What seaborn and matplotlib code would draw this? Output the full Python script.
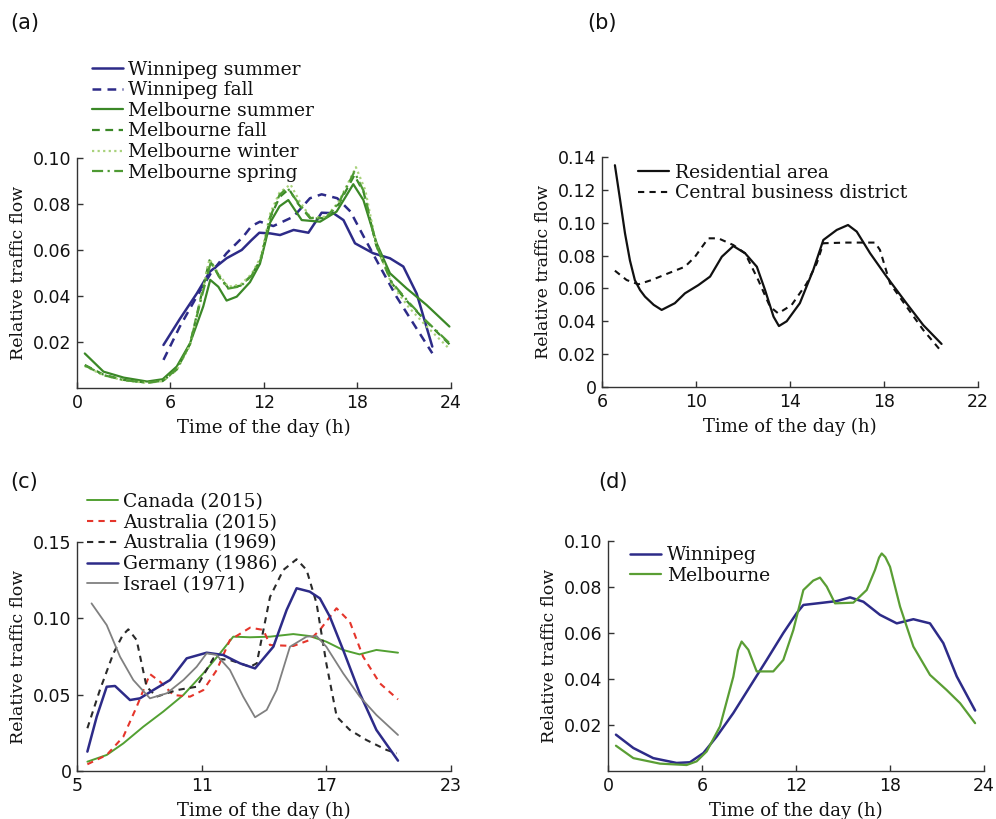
import matplotlib
matplotlib.use('Agg')
import matplotlib.pyplot as plt
import seaborn as sns

# ---- (a) seasonal hourly profiles ----
a_wpg_summer_h = [5.55, 6.6, 7.68, 8.53, 9.6, 10.57, 11.2, 11.7, 12.4, 13.03, 13.9, 14.85, 15.7,
                  16.45, 17.1, 17.84, 19.0, 20.08, 20.94, 21.8, 22.8]
a_wpg_summer_v = [0.0187, 0.0300, 0.0410, 0.0506, 0.0564, 0.0600, 0.0643, 0.0675, 0.0672, 0.0665,
                  0.0687, 0.0675, 0.0762, 0.0760, 0.0730, 0.0629, 0.0586, 0.0564, 0.0528, 0.0410, 0.0180]
a_wpg_fall_h = [5.55, 6.6, 7.68, 8.6, 9.6, 10.67, 11.2, 11.74, 12.6, 13.9, 14.95, 15.7, 16.7,
                17.55, 18.4, 19.44, 20.5, 21.58, 22.8]
a_wpg_fall_v = [0.0122, 0.0267, 0.0397, 0.0500, 0.0586, 0.0658, 0.0704, 0.0723, 0.0704, 0.0745,
                0.0825, 0.0842, 0.0825, 0.0767, 0.0658, 0.0528, 0.0397, 0.0281, 0.0151]
a_mel_summer_h = [0.5, 1.7, 3.0, 4.5, 5.5, 6.4, 7.25, 8.1, 8.55, 9.07, 9.6, 10.25, 11.1, 11.74,
                  12.4, 13.0, 13.56, 14.42, 15.6, 16.66, 17.73, 18.38, 19.23, 20.08, 21.15, 22.43, 23.9]
a_mel_summer_v = [0.0150, 0.0071, 0.0045, 0.0028, 0.0038, 0.0093, 0.0194, 0.0354, 0.0470, 0.0440,
                  0.0380, 0.0397, 0.0460, 0.0540, 0.0720, 0.0790, 0.0817, 0.0730, 0.0723, 0.0767,
                  0.0886, 0.0817, 0.0629, 0.0499, 0.0433, 0.0361, 0.0267]
a_mel_fall_h = [0.5, 1.7, 3.0, 4.5, 5.5, 6.4, 7.25, 7.9, 8.5, 9.1, 9.7, 10.5, 11.2, 11.8, 12.4, 13.0,
                13.6, 14.2, 15.0, 16.0, 16.8, 17.8, 18.4, 19.2, 20.2, 21.3, 22.4, 23.9]
a_mel_fall_v = [0.0100, 0.0058, 0.0035, 0.0023, 0.0030, 0.0080, 0.0190, 0.0380, 0.0555, 0.0490,
                0.0435, 0.0445, 0.0490, 0.0560, 0.0740, 0.0830, 0.0865, 0.0800, 0.0735, 0.0740,
                0.0800, 0.0925, 0.0850, 0.0620, 0.0455, 0.0368, 0.0290, 0.0190]
a_mel_winter_h = [0.5, 1.7, 3.0, 4.5, 5.5, 6.4, 7.25, 7.9, 8.5, 9.1, 9.7, 10.5, 11.2, 11.8, 12.4,
                  13.0, 13.7, 14.3, 15.0, 16.0, 16.8, 17.9, 18.5, 19.2, 20.2, 21.3, 22.4, 23.9]
a_mel_winter_v = [0.0095, 0.0055, 0.0033, 0.0022, 0.0030, 0.0078, 0.0185, 0.0375, 0.0560, 0.0495,
                  0.0440, 0.0450, 0.0495, 0.0570, 0.0760, 0.0850, 0.0885, 0.0810, 0.0740, 0.0745,
                  0.0810, 0.0960, 0.0860, 0.0625, 0.0450, 0.0350, 0.0270, 0.0170]
a_mel_spring_h = [0.5, 1.7, 3.0, 4.5, 5.5, 6.4, 7.25, 7.9, 8.6, 9.1, 9.7, 10.5, 11.2, 11.8, 12.4,
                  13.0, 13.5, 14.2, 15.0, 16.0, 16.8, 17.8, 18.4, 19.2, 20.2, 21.3, 22.4, 23.9]
a_mel_spring_v = [0.0098, 0.0056, 0.0034, 0.0023, 0.0031, 0.0082, 0.0190, 0.0370, 0.0550, 0.0485,
                  0.0432, 0.0442, 0.0488, 0.0560, 0.0745, 0.0840, 0.0870, 0.0805, 0.0738, 0.0742,
                  0.0805, 0.0940, 0.0855, 0.0622, 0.0460, 0.0372, 0.0292, 0.0195]

# ---- (b) residential vs CBD ----
b_res_h = [6.55, 6.77, 6.98, 7.19, 7.4, 7.62, 7.83, 8.2, 8.54, 9.1, 9.53, 10.1, 10.6, 11.1, 11.59,
           12.09, 12.59, 12.94, 13.3, 13.53, 13.86, 14.42, 14.99, 15.42, 15.99, 16.47, 16.84,
           17.41, 18.11, 18.96, 19.67, 20.45]
b_res_v = [0.135, 0.114, 0.0935, 0.077, 0.065, 0.059, 0.055, 0.050, 0.0469, 0.051, 0.057, 0.062,
           0.0672, 0.0793, 0.0858, 0.0814, 0.0732, 0.059, 0.0428, 0.0371, 0.040, 0.051, 0.0712,
           0.0895, 0.0956, 0.0986, 0.0946, 0.0814, 0.0672, 0.0509, 0.0377, 0.0262]
b_cbd_h = [6.55, 7.05, 7.55, 8.11, 8.82, 9.53, 9.96, 10.52, 10.95, 11.59, 12.09, 12.65, 13.15,
           13.5, 14.07, 14.71, 15.14, 15.42, 16.4, 17.62, 17.83, 18.26, 18.96, 19.67, 20.45]
b_cbd_v = [0.0708, 0.0651, 0.0625, 0.0651, 0.0692, 0.0732, 0.0793, 0.0905, 0.0905, 0.0864, 0.0814,
           0.0651, 0.0489, 0.0448, 0.0499, 0.063, 0.0753, 0.0875, 0.0879, 0.0879, 0.0834, 0.063,
           0.0489, 0.0347, 0.0215]

# ---- (c) international comparison ----
c_canada_h = [5.5, 6.43, 7.23, 8.19, 9.15, 10.12, 11.08, 11.88, 12.52, 13.33, 14.29, 15.41, 16.2,
              17.0, 17.8, 18.6, 19.41, 20.45]
c_canada_v = [0.0061, 0.0105, 0.0181, 0.029, 0.0389, 0.0498, 0.064, 0.077, 0.088, 0.0876, 0.088,
              0.0897, 0.0884, 0.0847, 0.0793, 0.0764, 0.0793, 0.0775]
c_aus15_h = [5.5, 6.43, 7.23, 7.87, 8.51, 9.0, 9.64, 10.44, 11.08, 11.72, 12.36, 13.33, 13.97,
             14.29, 15.41, 16.2, 16.69, 17.49, 18.13, 18.77, 19.58, 20.45]
c_aus15_v = [0.0044, 0.0105, 0.0225, 0.042, 0.0635, 0.0585, 0.0498, 0.0487, 0.053, 0.066, 0.0858,
             0.0939, 0.0924, 0.0825, 0.0819, 0.0858, 0.0924, 0.1066, 0.0978, 0.0749, 0.0574, 0.0469]
c_aus69_h = [5.5, 6.1, 6.75, 7.2, 7.47, 7.87, 8.35, 8.83, 9.8, 10.76, 11.56, 12.36, 13.33, 13.65,
             14.29, 14.93, 15.57, 16.05, 16.53, 17.0, 17.5, 18.13, 18.93, 19.9, 20.38]
c_aus69_v = [0.028, 0.053, 0.077, 0.089, 0.0928, 0.0858, 0.0552, 0.0487, 0.053, 0.0552, 0.0738,
             0.0727, 0.0683, 0.0705, 0.114, 0.1317, 0.1387, 0.1317, 0.1098, 0.0705, 0.0356, 0.0269,
             0.0203, 0.0138, 0.0116]
c_ger_h = [5.5, 5.95, 6.43, 6.83, 7.55, 8.03, 8.67, 9.48, 10.28, 11.24, 12.04, 12.85, 13.57, 14.45,
           15.09, 15.57, 16.2, 16.69, 17.17, 17.81, 18.61, 19.41, 20.45]
c_ger_v = [0.0127, 0.0356, 0.0552, 0.0557, 0.0465, 0.0476, 0.053, 0.0596, 0.0738, 0.0775, 0.076,
           0.0705, 0.0672, 0.0814, 0.1055, 0.1197, 0.1175, 0.1131, 0.1011, 0.0793, 0.0509, 0.0269,
           0.0068]
c_isr_h = [5.7, 6.43, 7.07, 7.71, 8.51, 9.32, 10.12, 10.76, 11.24, 11.72, 12.36, 13.0, 13.57, 14.13,
           14.61, 15.25, 16.05, 16.53, 17.0, 17.81, 18.61, 19.41, 20.45]
c_isr_v = [0.1098, 0.0956, 0.0749, 0.0596, 0.0476, 0.0509, 0.0596, 0.0683, 0.0771, 0.076, 0.0662,
           0.0487, 0.0352, 0.040, 0.0531, 0.0814, 0.088, 0.0884, 0.0814, 0.064, 0.0487, 0.0367,
           0.0236]

# ---- (d) city averages ----
d_wpg_h = [0.51, 1.62, 2.89, 4.38, 5.23, 6.09, 6.94, 8.0, 9.06, 10.13, 11.19, 12.04, 12.47, 13.74,
           14.6, 15.45, 16.3, 17.36, 18.43, 19.49, 20.55, 21.4, 22.26, 23.43]
d_wpg_v = [0.0158, 0.010, 0.0056, 0.0035, 0.0038, 0.0078, 0.015, 0.0252, 0.0367, 0.0483, 0.060,
           0.0686, 0.0722, 0.0732, 0.0739, 0.0755, 0.0736, 0.0679, 0.0642, 0.066, 0.0642, 0.0556,
           0.0411, 0.0263]
d_mel_h = [0.51, 1.62, 3.32, 5.02, 5.66, 6.3, 7.15, 8.0, 8.3, 8.53, 8.96, 9.49, 10.55, 11.19,
           11.83, 12.47, 13.1, 13.53, 13.96, 14.49, 15.66, 16.51, 17.04, 17.3, 17.47, 17.7, 18.0,
           18.64, 19.49, 20.55, 21.6, 22.47, 23.43]
d_mel_v = [0.011, 0.0056, 0.0032, 0.0026, 0.0042, 0.0085, 0.0194, 0.041, 0.0525, 0.0563, 0.0527,
           0.0433, 0.0433, 0.0483, 0.0613, 0.0787, 0.0828, 0.0841, 0.0802, 0.0729, 0.0732, 0.0787,
           0.0874, 0.0928, 0.0946, 0.0930, 0.0888, 0.0715, 0.0541, 0.0418, 0.0353, 0.0295, 0.0208]

NAVY = '#2d2b88'
GREEN = '#3b8827'
LGREEN = '#a9d27c'
SERIF = ['DejaVu Serif']
SANS = ['DejaVu Sans']

sns.set_theme(style='ticks')
plt.rcParams['font.family'] = SANS
plt.rcParams['xtick.direction'] = 'in'
plt.rcParams['ytick.direction'] = 'in'

fig = plt.figure(figsize=(9.96, 8.19), dpi=100)
ax_a = fig.add_axes([0.0773, 0.5263, 0.3755, 0.2808])
ax_b = fig.add_axes([0.6044, 0.5275, 0.3775, 0.2808])
ax_c = fig.add_axes([0.0773, 0.0586, 0.3755, 0.2796])
ax_d = fig.add_axes([0.6104, 0.0586, 0.3776, 0.2808])


def line(ax, h, v, color, ls='-', lw=1.6, label=None):
    sns.lineplot(x=h, y=v, ax=ax, color=color, linestyle=ls, linewidth=lw, label=label,
                 legend=False, sort=False)


def style(ax, xlim, xticks, ylim, yticks, ylabels):
    ax.set_xlim(*xlim)
    ax.set_ylim(*ylim)
    ax.set_xticks(xticks)
    ax.set_xticklabels([str(t) for t in xticks])
    ax.set_yticks(yticks)
    ax.set_yticklabels(ylabels)
    sns.despine(ax=ax)
    for s in ('left', 'bottom'):
        ax.spines[s].set_color('#333333')
        ax.spines[s].set_linewidth(1.0)
    ax.tick_params(axis='both', direction='in', length=4, width=1.0, color='#333333',
                   labelsize=12.5, labelcolor='#111111', pad=4, bottom=True, left=True)
    ax.set_xlabel('Time of the day (h)', family=SERIF, fontsize=13, labelpad=5,
                  color='#111111')
    ax.set_ylabel('Relative traffic flow', family=SERIF, fontsize=12.5, labelpad=4,
                  color='#111111')


def legend(ax, anchor):
    leg = ax.legend(loc='upper left', bbox_to_anchor=anchor, bbox_transform=fig.transFigure,
                    frameon=False, prop={'family': SERIF, 'size': 13.5}, handlelength=1.65,
                    handletextpad=0.3, labelspacing=0.14, borderpad=0, borderaxespad=0)
    for t in leg.get_texts():
        t.set_color('#111111')


# (a)
line(ax_a, a_wpg_summer_h, a_wpg_summer_v, NAVY, '-', 1.8, 'Winnipeg summer')
line(ax_a, a_wpg_fall_h, a_wpg_fall_v, NAVY, (0, (3.5, 2.5)), 1.8, 'Winnipeg fall')
line(ax_a, a_mel_summer_h, a_mel_summer_v, GREEN, '-', 1.6, 'Melbourne summer')
line(ax_a, a_mel_fall_h, a_mel_fall_v, GREEN, (0, (3.5, 2.5)), 1.6, 'Melbourne fall')
line(ax_a, a_mel_winter_h, a_mel_winter_v, LGREEN, (0, (1, 1.5)), 1.6, 'Melbourne winter')
line(ax_a, a_mel_spring_h, a_mel_spring_v, '#4e9a33', (0, (5, 2, 1, 2)), 1.6, 'Melbourne spring')
style(ax_a, (0, 24), [0, 6, 12, 18, 24], (0, 0.10), [0.02, 0.04, 0.06, 0.08, 0.10],
      ['0.02', '0.04', '0.06', '0.08', '0.10'])
legend(ax_a, (0.092, 0.926))

# (b)
line(ax_b, b_res_h, b_res_v, '#111111', '-', 1.6, 'Residential area')
line(ax_b, b_cbd_h, b_cbd_v, '#111111', (0, (3, 2.5)), 1.5, 'Central business district')
style(ax_b, (6, 22), [6, 10, 14, 18, 22], (0, 0.14),
      [0, 0.02, 0.04, 0.06, 0.08, 0.10, 0.12, 0.14],
      ['0', '0.02', '0.04', '0.06', '0.08', '0.10', '0.12', '0.14'])
legend(ax_b, (0.641, 0.800))

# (c)
line(ax_c, c_canada_h, c_canada_v, '#52a032', '-', 1.4, 'Canada (2015)')
line(ax_c, c_aus15_h, c_aus15_v, '#e5352b', (0, (3, 2.5)), 1.5, 'Australia (2015)')
line(ax_c, c_aus69_h, c_aus69_v, '#2a2a2a', (0, (3, 2.5)), 1.5, 'Australia (1969)')
line(ax_c, c_ger_h, c_ger_v, NAVY, '-', 1.8, 'Germany (1986)')
line(ax_c, c_isr_h, c_isr_v, '#808080', '-', 1.3, 'Israel (1971)')
style(ax_c, (5, 23), [5, 11, 17, 23], (0, 0.15), [0, 0.05, 0.10, 0.15],
      ['0', '0.05', '0.10', '0.15'])
legend(ax_c, (0.087, 0.398))

# (d)
line(ax_d, d_wpg_h, d_wpg_v, NAVY, '-', 1.8, 'Winnipeg')
line(ax_d, d_mel_h, d_mel_v, '#5a9e34', '-', 1.6, 'Melbourne')
style(ax_d, (0, 24), [0, 6, 12, 18, 24], (0, 0.10), [0.02, 0.04, 0.06, 0.08, 0.10],
      ['0.02', '0.04', '0.06', '0.08', '0.10'])
legend(ax_d, (0.633, 0.333))

for tag, x, y in [('(a)', 0.010, 0.972), ('(b)', 0.590, 0.972),
                  ('(c)', 0.010, 0.411), ('(d)', 0.601, 0.411)]:
    fig.text(x, y, tag, fontsize=15, family=SANS, va='center', ha='left', color='#111111')

fig.savefig('out.png', dpi=100)
